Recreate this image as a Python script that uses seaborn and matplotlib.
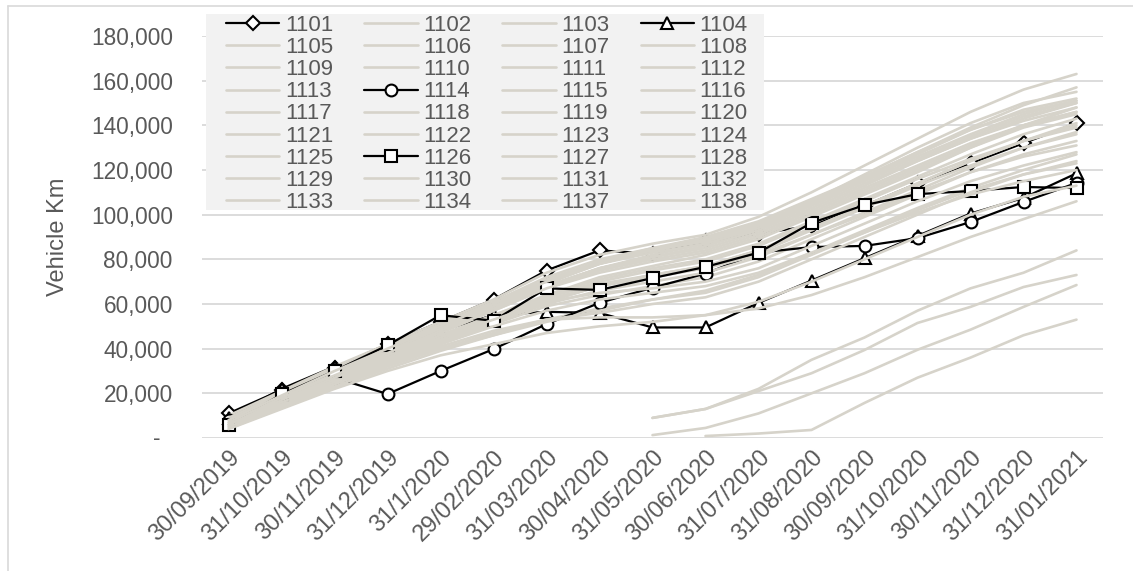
import numpy as np
import pandas as pd
import matplotlib
matplotlib.use("Agg")
import matplotlib.pyplot as plt
import seaborn as sns
from matplotlib.ticker import FuncFormatter
from matplotlib.lines import Line2D
from matplotlib.patches import Rectangle

dates = ["30/09/2019", "31/10/2019", "30/11/2019", "31/12/2019", "31/1/2020",
         "29/02/2020", "31/03/2020", "30/04/2020", "31/05/2020", "30/06/2020",
         "31/07/2020", "31/08/2020", "30/09/2020", "31/10/2020", "30/11/2020",
         "31/12/2020", "31/01/2021"]

N = np.nan

# highlighted vehicles
v1101 = [11000, 21500, 31500, 42000, 52000, 62000, 75000, 84000, 82500, 88000, 91500, 95000, 104000, 114000, 123000, 132000, 141000]
v1104 = [9000, 22000, 32000, 40000, 48000, 55000, 56500, 56000, 49500, 49500, 60500, 70500, 80500, 90500, 100500, 107500, 118500]
v1114 = [8000, 19000, 27000, 19700, 30000, 39800, 51000, 60500, 67300, 73600, 83000, 85500, 86000, 89500, 96700, 105700, 114200]
v1126 = [6000, 19500, 30000, 41500, 55000, 52500, 67000, 66300, 71600, 76600, 83000, 96300, 104300, 109200, 110600, 112400, 111900]

# rest of the fleet
v1102 = [8000, 19000, 30000, 40000, 50000, 60000, 71000, 79000, 84000, 88000, 95000, 106000, 117000, 128000, 139000, 149000, 157000]
v1103 = [6000, 17000, 27000, 36000, 45000, 54000, 64000, 72000, 77000, 82000, 89000, 99000, 109000, 119000, 130000, 140000, 148000]
v1105 = [5000, 15000, 25000, 34000, 43000, 52000, 61000, 68000, 73000, 77000, 84000, 94000, 104000, 114000, 124000, 133000, 140000]
v1106 = [10000, 21000, 32000, 42000, 52000, 62000, 74000, 82000, 87000, 91000, 99000, 110000, 122000, 134000, 146000, 156000, 163000]
v1107 = [7000, 18000, 28000, 38000, 48000, 58000, 69000, 78000, 84000, 89000, 96000, 106000, 116000, 126000, 136000, 145000, 151000]
v1108 = [6000, 16000, 26000, 35000, 44000, 53000, 62000, 68000, 72000, 76000, 83000, 93000, 103000, 113000, 122000, 130000, 136000]
v1109 = [8000, 19000, 29000, 39000, 49000, 59000, 70000, 79000, 85000, 90000, 97000, 107000, 117000, 128000, 138000, 147000, 152000]
v1110 = [5000, 14000, 23000, 31000, 39000, 46000, 53000, 58000, 62000, 66000, 73000, 83000, 93000, 103000, 112000, 120000, 127000]
v1111 = [7000, 18000, 28000, 38000, 48000, 58000, 68000, 76000, 82000, 87000, 94000, 104000, 114000, 124000, 134000, 142000, 148000]
v1112 = [4000, 14000, 24000, 33000, 42000, 51000, 59000, 64000, 68000, 72000, 79000, 89000, 99000, 109000, 119000, 127000, 133000]
v1113 = [6000, 17000, 28000, 38000, 48000, 58000, 68000, 76000, 81000, 86000, 93000, 103000, 113000, 124000, 134000, 143000, 150000]
v1115 = [8000, 19000, 29000, 39000, 49000, 58000, 68000, 76000, 81000, 85000, 92000, 102000, 112000, 122000, 132000, 140000, 146000]
v1116 = [5000, 15000, 24000, 33000, 41000, 48000, 53000, 54000, 54000, 55000, 58000, 64000, 72000, 81000, 90000, 98000, 106000]
v1117 = [7000, 17000, 27000, 37000, 46000, 55000, 64000, 71000, 76000, 80000, 87000, 97000, 107000, 117000, 127000, 136000, 143000]
v1118 = [6000, 16000, 26000, 36000, 45000, 54000, 63000, 70000, 75000, 79000, 86000, 96000, 106000, 116000, 125000, 133000, 139000]
v1119 = [9000, 20000, 31000, 41000, 51000, 61000, 72000, 80000, 85000, 88000, 95000, 106000, 118000, 130000, 141000, 150000, 155000]
v1120 = [5000, 15000, 25000, 34000, 43000, 52000, 60000, 66000, 70000, 74000, 81000, 91000, 101000, 111000, 121000, 130000, 137000]
v1121 = [7000, 18000, 29000, 39000, 49000, 59000, 70000, 78000, 84000, 89000, 96000, 105000, 115000, 125000, 135000, 144000, 150000]
v1122 = [6000, 16000, 25000, 33000, 40000, 46000, 52000, 57000, 62000, 65000, 72000, 82000, 92000, 102000, 111000, 118000, 123000]
v1123 = [8000, 18000, 28000, 38000, 47000, 57000, 67000, 75000, 80000, 84000, 91000, 101000, 111000, 121000, 131000, 140000, 146000]
v1124 = [5000, 15000, 25000, 34000, 43000, 52000, 61000, 68000, 73000, 77000, 84000, 94000, 104000, 114000, 124000, 133000, 141000]
v1125 = [7000, 17000, 27000, 37000, 46000, 55000, 63000, 69000, 73000, 76000, 82000, 91000, 100000, 110000, 119000, 126000, 131000]
v1127 = [6000, 17000, 27000, 36000, 45000, 53000, 61000, 65000, 67000, 70000, 76000, 86000, 96000, 106000, 115000, 122000, 128000]
v1128 = [8000, 19000, 30000, 40000, 50000, 60000, 70000, 78000, 83000, 87000, 94000, 105000, 116000, 127000, 138000, 146000, 151000]
v1129 = [5000, 14000, 23000, 32000, 40000, 47000, 53000, 56000, 60000, 63000, 70000, 80000, 90000, 100000, 110000, 118000, 124000]
v1130 = [7000, 18000, 28000, 38000, 48000, 57000, 67000, 74000, 79000, 83000, 90000, 100000, 110000, 120000, 130000, 139000, 145000]
v1131 = [6000, 16000, 25000, 34000, 42000, 50000, 57000, 62000, 65000, 68000, 74000, 83000, 92000, 101000, 109000, 115000, 120000]
v1132 = [4000, 13000, 22000, 30000, 37000, 42000, 47000, 50000, 52000, 55000, 61000, 70000, 80000, 90000, 100000, 108000, 113000]
# newer vehicles, start later
v1133 = [N, N, N, N, N, N, N, N, 9000, 13000, 22000, 35000, 45000, 57000, 67000, 74000, 84000]
v1134 = [N, N, N, N, N, N, N, N, 1300, 4500, 11000, 20000, 29000, 39500, 48500, 58700, 68500]
v1137 = [N, N, N, N, N, N, N, N, N, 900, 2000, 3600, 15700, 27000, 36000, 46000, 53000]
v1138 = [N, N, N, N, N, N, N, N, 9000, 13000, 21000, 29000, 39400, 51500, 58700, 67600, 73000]

series = {
    "1101": v1101, "1102": v1102, "1103": v1103, "1104": v1104,
    "1105": v1105, "1106": v1106, "1107": v1107, "1108": v1108,
    "1109": v1109, "1110": v1110, "1111": v1111, "1112": v1112,
    "1113": v1113, "1114": v1114, "1115": v1115, "1116": v1116,
    "1117": v1117, "1118": v1118, "1119": v1119, "1120": v1120,
    "1121": v1121, "1122": v1122, "1123": v1123, "1124": v1124,
    "1125": v1125, "1126": v1126, "1127": v1127, "1128": v1128,
    "1129": v1129, "1130": v1130, "1131": v1131, "1132": v1132,
    "1133": v1133, "1134": v1134, "1137": v1137, "1138": v1138,
}
markers = {"1101": "D", "1104": "^", "1114": "o", "1126": "s"}

sns.set_style("white")
plt.rcParams["font.family"] = ["Liberation Sans", "DejaVu Sans"]

W, H = 1133, 571
fig = plt.figure(figsize=(W / 100, H / 100), dpi=100)
ax = fig.add_axes([202 / W, 1 - 438 / H, (1103 - 202) / W, (438 - 36) / H])

gray = "#d6d3ca"
txt = "#595959"
x = np.arange(len(dates))
for name, vals in series.items():
    df = pd.DataFrame({"x": x, "y": vals}).dropna()
    if name in markers:
        sns.lineplot(data=df, x="x", y="y", ax=ax, color="black", linewidth=1.6,
                     marker=markers[name], markersize=7 if name == "1101" else 8.5,
                     markerfacecolor="white", markeredgecolor="black",
                     markeredgewidth=1.5, label=name, errorbar=None, sort=False)
    else:
        sns.lineplot(data=df, x="x", y="y", ax=ax, color=gray, linewidth=1.9,
                     label=name, errorbar=None, sort=False)

ax.set_xlim(-0.5, len(dates) - 0.5)
ax.set_ylim(0, 180000)
ax.set_yticks(np.arange(0, 180001, 20000))
ax.yaxis.set_major_formatter(FuncFormatter(lambda v, p: "" if v == 0 else f"{v:,.0f}"))
ax.set_xticks(x)
ax.set_xticklabels(dates, rotation=45, ha="right", rotation_mode="anchor")
ax.tick_params(axis="both", length=0, colors=txt)
ax.tick_params(axis="y", pad=21, labelsize=16.3)
ax.tick_params(axis="x", pad=6, labelsize=17)
# accounting style zero
ax.text(-45 / 901, 0, "-", transform=ax.get_yaxis_transform(), ha="center",
        va="center", fontsize=16.3, color=txt)
ax.grid(axis="y", color="#d9d9d9", linewidth=1.3)
ax.set_axisbelow(True)
for s in ax.spines.values():
    s.set_visible(False)
ax.set_xlabel("")
ax.set_ylabel("Vehicle Km", fontsize=17, color=txt)
ax.yaxis.set_label_coords(-0.148, 0.5)

# legend, row-wise order like the source
handles, labels = ax.get_legend_handles_labels()
order = [r * 4 + c for c in range(4) for r in range(9)]
ax.add_patch(Rectangle((206 / W, 1 - 210 / H), (764 - 206) / W, (210 - 14) / H,
                       transform=fig.transFigure, facecolor="#f2f2f2",
                       edgecolor="none", zorder=4, clip_on=False))
leg = ax.legend([handles[i] for i in order], [labels[i] for i in order],
                ncol=4, loc="upper left", bbox_to_anchor=(226 / W, 1 - 15 / H),
                bbox_transform=fig.transFigure, fontsize=16, frameon=False,
                handlelength=2.4, handletextpad=0.25, columnspacing=1.4,
                labelspacing=0.05, borderpad=0, borderaxespad=0)
leg.set_zorder(5)
for t in leg.get_texts():
    t.set_color(txt)

# chart border
fig.add_artist(Line2D([8 / W, 1], [1 - 6 / H, 1 - 6 / H], transform=fig.transFigure,
                      color="#d9d9d9", linewidth=1.2))
fig.add_artist(Line2D([8 / W, 8 / W], [0, 1 - 6 / H], transform=fig.transFigure,
                      color="#d9d9d9", linewidth=1.2))

fig.savefig("out.png", dpi=100)
